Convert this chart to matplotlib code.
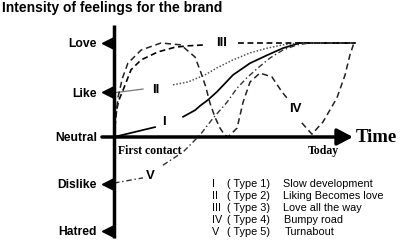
import matplotlib
matplotlib.use('Agg')
import matplotlib.pyplot as plt
import numpy as np

plt.rcParams['font.family'] = ['Liberation Sans', 'DejaVu Sans']
nan = np.nan

# levels of feeling on the vertical axis
level_names = ['Love', 'Like', 'Neutral', 'Dislike', 'Hatred']
level_vals = [2.0, 0.95, 0.0, -1.0, -2.0]

# curves (time from first contact, intensity); nan = gap for the roman label
t1 = [0, 1.71, nan, 2.88, 3.38, 3.58, 3.92, 4.29, 4.96, 5.67, 6.38, 7.04, 7.75, 10.0]
v1 = [0, 0.21, nan, 0.43, 0.57, 0.66, 0.79, 0.96, 1.32, 1.57, 1.74, 1.89, 2.0, 2.0]

t2_lead = [0.0, 1.21]
v2_lead = [0.94, 1.02]
t2 = [2.46, 3.08, 3.79, 4.29, 4.96, 5.67, 6.38, 7.04, 7.75, 10.0]
v2 = [1.11, 1.17, 1.32, 1.47, 1.64, 1.79, 1.89, 1.96, 2.0, 2.0]

t3 = [0, 0.08, 0.2, 0.38, 0.71, 1.13, 1.83, 2.54, 3.08, 3.79, nan, 5.17, 10.08]
v3 = [0, 0.51, 0.78, 1.0, 1.43, 1.64, 1.81, 1.91, 1.94, 1.96, nan, 2.0, 2.0]

t4 = [0, 0.17, 0.35, 0.58, 1.13, 1.96, 2.79, 3.38, 3.63, 3.83, 4.0, 4.21, 4.42, 4.6, 4.75,
      5.13, 5.38, 5.67, 6.08, 6.58, 7.0, 7.21, nan, 7.83, 8.25, 8.71, 9.29, 9.63, 9.83, 10.0]
v4 = [0, 0.85, 1.25, 1.57, 1.85, 2.0, 1.96, 1.70, 1.36, 1.06, 0.72, 0.42, 0.19, 0.05, 0,
      0.19, 0.74, 1.17, 1.36, 1.28, 0.96, 0.83, nan, 0.30, 0.06, 0.32, 0.83, 1.32, 1.74, 2.0]

t5 = [0, 1.21, nan, 2.04, 2.88, 3.58, 4.13, 4.71, 5.13, 5.54, 6.0, 6.5, 7.04, 7.63, 8.17, 10.0]
v5 = [-0.98, -0.87, nan, -0.6, -0.32, 0.04, 0.40, 0.74, 1.04, 1.26, 1.47, 1.68, 1.85, 1.96, 2.0, 2.0]

numerals = ['I', 'II', 'III', 'IV', 'V']
type_labels = ['( Type 1)', '( Type 2)', '( Type 3)', '( Type 4)', '( Type 5)']
descriptions = ['Slow development', 'Liking Becomes love', 'Love all the way', 'Bumpy road', 'Turnabout']
label_pos = [(2.08, 0.32), (1.75, 1.0), (4.5, 2.0), (7.54, 0.6), (1.5, -0.83)]

fig = plt.figure(figsize=(4.0, 2.44), dpi=100)
ax = fig.add_axes([0, 0, 1, 1])
ax.set_xlim(-4.75, 11.92); ax.set_ylim(-2.277, 2.915)
ax.axis('off')

# axes of the diagram
ax.plot([0, 0], [-2.15, 2.38], color='black', lw=2.5, solid_capstyle='butt', zorder=5)
ax.annotate('', xy=(9.96, 0), xytext=(-0.5, 0),
            arrowprops=dict(arrowstyle='-|>,head_length=0.95,head_width=0.5', lw=2.5,
                            color='black', shrinkA=0, shrinkB=0, mutation_scale=10), zorder=5)
for name, val in zip(level_names, level_vals):
    if name != 'Neutral':
        ax.plot(-0.23, val, marker='<', ms=8.5, color='black', ls='none', zorder=5)
    ax.text(-0.71, val - 0.03, name, ha='right', va='center', fontsize=8.7, fontweight='bold')

# curves
ax.plot(t1, v1, color='black', lw=1.25)
ax.plot(t2_lead, v2_lead, color='#777777', lw=0.9)
ax.plot(t2, v2, color='#555555', lw=1.1, ls=(0, (1, 1.2)))
ax.plot(t3, v3, color='black', lw=1.2, ls=(0, (3.5, 2.2)))
ax.plot(t4, v4, color='#222222', lw=1.1, ls=(0, (4, 2.5)))
ax.plot(t5, v5, color='#333333', lw=1.0, ls=(0, (4, 2, 1, 2)))

for num, (x, y) in zip(numerals, label_pos):
    ax.text(x, y, num, ha='center', va='center', fontsize=9.5, fontweight='bold')

ax.text(-4.67, 2.74, 'Intensity of feelings for the brand', ha='left', va='center',
        fontsize=10, fontweight='bold')
ax.text(0.17, -0.30, 'First contact', ha='left', va='center', fontsize=8.5,
        fontweight='bold', family='Liberation Serif')
ax.text(8.71, -0.30, 'Today', ha='center', va='center', fontsize=8.5,
        fontweight='bold', family='Liberation Serif')
ax.text(10.08, -0.02, 'Time', ha='left', va='center', fontsize=13.5,
        fontweight='bold', family='Liberation Serif')

# legend rows
for i, (num, typ, desc) in enumerate(zip(numerals, type_labels, descriptions)):
    y = -0.99 - 0.26 * i
    ax.text(4.08, y, num, ha='left', va='center', fontsize=7.8)
    ax.text(6.5, y, typ, ha='right', va='center', fontsize=7.8)
    ax.text(7.03 if i < 3 else 7.1, y, desc, ha='left', va='center', fontsize=7.8)

fig.savefig('out.png', dpi=100)
